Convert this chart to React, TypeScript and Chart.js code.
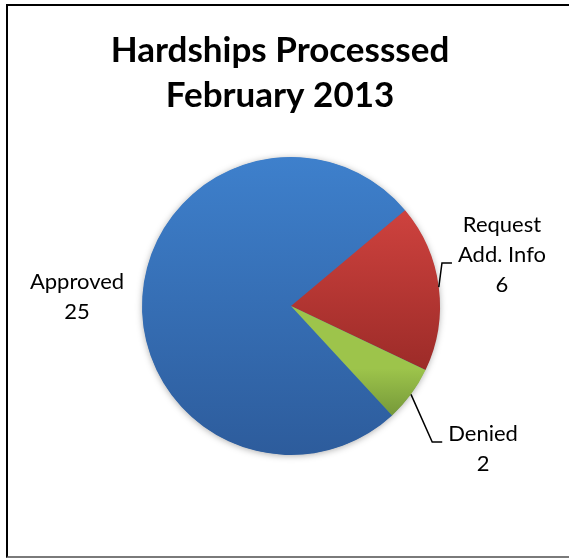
import React, { useEffect, useRef } from "react";
import { Chart, registerables } from "chart.js";

Chart.register(...registerables);

// ---- data ----
const categories = ["Approved", "Request Add. Info", "Denied"];
const values = [25, 6, 2];
const labelLines = [["Approved"], ["Request", "Add. Info"], ["Denied"]];
const titleLines = ["Hardships Processsed", "February 2013"];

// ---- styling ----
const gradientStops: [number, string][][] = [
  [[0, "#3E80CC"], [1, "#2D5C9C"]],
  [[0.18, "#CE423E"], [0.72, "#9C2B28"]],
  [[0.71, "#9DC44B"], [0.87, "#759839"]],
];
// label anchor (first baseline) relative to pie centre, in units of radius; leader line index
const labelPos = [
  { kx: -1.436, ky: -0.115, leader: -1 },
  { kx: 1.416, ky: -0.497, leader: 1 },
  { kx: 1.289, ky: 0.906, leader: 0 },
];
const FONT = "Lato, 'Open Sans', sans-serif";

const piePlugin = {
  id: "pieDecor",
  beforeDatasetsDraw(chart: any) {
    const meta = chart.getDatasetMeta(0);
    const arc = meta.data[0];
    if (!arc) return;
    const { x, y, outerRadius } = arc.getProps(["x", "y", "outerRadius"], true);
    const ctx = chart.ctx;
    ctx.save();
    ctx.shadowColor = "rgba(0,0,0,0.35)";
    ctx.shadowBlur = 7;
    ctx.shadowOffsetY = 1;
    ctx.fillStyle = "#3570B5";
    ctx.beginPath();
    ctx.arc(x, y, outerRadius - 0.5, 0, Math.PI * 2);
    ctx.fill();
    ctx.restore();
  },
  afterDatasetsDraw(chart: any) {
    const ctx = chart.ctx;
    const meta = chart.getDatasetMeta(0);
    const lineH = 30;
    ctx.save();
    meta.data.forEach((arc: any, i: number) => {
      const { x, y, startAngle, endAngle, outerRadius } = arc.getProps(
        ["x", "y", "startAngle", "endAngle", "outerRadius"],
        true
      );
      const mid = (startAngle + endAngle) / 2;
      const p = labelPos[i];
      const lx = x + outerRadius * p.kx;
      const ly = y + outerRadius * p.ky;
      const lines = [...labelLines[i], String(values[i])];
      ctx.font = `22px ${FONT}`;
      ctx.fillStyle = "#000";
      ctx.textAlign = "center";
      ctx.textBaseline = "alphabetic";
      lines.forEach((t, j) => ctx.fillText(t, lx, ly + j * lineH));
      if (p.leader >= 0) {
        const w = ctx.measureText(lines[p.leader]).width;
        const left = lx - w / 2;
        const yl = ly + p.leader * lineH + 1;
        const sx = x + Math.cos(mid) * outerRadius;
        const sy = y + Math.sin(mid) * outerRadius;
        ctx.strokeStyle = "#000";
        ctx.lineWidth = 1.5;
        ctx.beginPath();
        ctx.moveTo(sx, sy);
        ctx.lineTo(left - 16, yl);
        ctx.lineTo(left - 6, yl);
        ctx.stroke();
      }
    });
    // title
    ctx.font = `bold 35px ${FONT}`;
    ctx.textAlign = "center";
    ctx.fillStyle = "#000";
    titleLines.forEach((t, j) => ctx.fillText(t, 280, 62 + j * 45));
    ctx.restore();
  },
};

export default function App() {
  const ref = useRef<HTMLCanvasElement>(null);
  useEffect(() => {
    if (!ref.current) return;
    const chart = new Chart(ref.current, {
      type: "pie",
      data: {
        labels: categories,
        datasets: [
          {
            data: values,
            borderWidth: 0,
            backgroundColor: (c: any) => {
              const area = c.chart.chartArea;
              const stops = gradientStops[c.dataIndex] || gradientStops[0];
              if (!area) return stops[0][1];
              const g = c.chart.ctx.createLinearGradient(0, area.top, 0, area.bottom);
              stops.forEach(([o, col]) => g.addColorStop(o, col));
              return g;
            },
          },
        ],
      },
      options: {
        responsive: false,
        animation: false,
        rotation: 137.27,
        layout: { padding: { left: 142, right: 129, top: 157, bottom: 105 } },
        plugins: {
          legend: { display: false },
          title: { display: false },
          tooltip: { enabled: false },
        },
      },
      plugins: [piePlugin],
    });
    return () => chart.destroy();
  }, []);
  return (
    <div style={{ position: "absolute", left: 0, top: 0, width: 569, height: 560, background: "#fff" }}>
      <div
        style={{
          position: "absolute",
          left: 6,
          top: 4,
          width: 563,
          height: 554,
          boxSizing: "border-box",
          borderLeft: "2px solid #000",
          borderTop: "2px solid #000",
          borderBottom: "2px solid #7a7a7a",
        }}
      />
      <canvas ref={ref} width={569} height={560} style={{ position: "absolute", left: 0, top: 0, display: "block" }} />
    </div>
  );
}
